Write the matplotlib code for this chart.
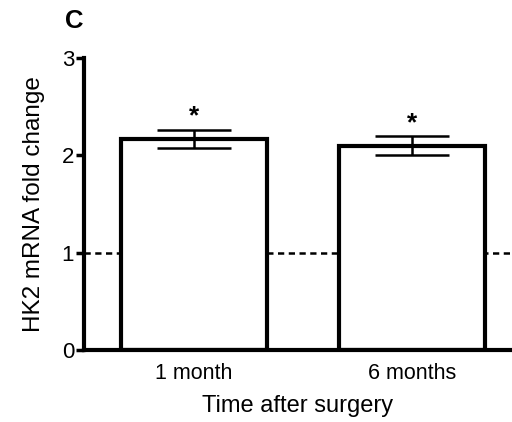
import matplotlib
matplotlib.use("Agg")
import matplotlib.pyplot as plt

categories = ["1 month", "6 months"]
values = [2.17, 2.10]
errors = [0.095, 0.095]
stars = ["*", "*"]
yticks = [0, 1, 2, 3]

plt.rcParams['font.family'] = ['Liberation Sans', 'DejaVu Sans']

fig = plt.figure(figsize=(5.12, 4.22), dpi=100)
ax = fig.add_axes([0.164, 0.1706, 0.836, 0.692])

x = list(range(len(categories)))
ax.axhline(1, color='black', lw=1.8, ls=(0, (2.5, 1.8)), zorder=1)
ax.bar(x, values, width=0.67, color='white', edgecolor='black', linewidth=3, zorder=2)
ax.errorbar(x, values, yerr=errors, fmt='none', ecolor='black', elinewidth=1.8,
            capsize=26.5, capthick=1.8, zorder=3)
for xi, v, e, s in zip(x, values, errors, stars):
    ax.text(xi, v + e + 0.01, s, ha='center', va='bottom', fontsize=19, fontweight='bold')

ax.set_xlim(-0.505, 1.459)
ax.set_ylim(0, 3)
ax.set_yticks(yticks)
ax.set_xticks(x)
ax.set_xticklabels(categories, fontsize=15.5)
ax.tick_params(axis='y', length=6, width=2.5, labelsize=16, pad=1)
ax.tick_params(axis='x', length=0, pad=9)
for sp in ['top', 'right']:
    ax.spines[sp].set_visible(False)
for sp in ['left', 'bottom']:
    ax.spines[sp].set_linewidth(3)
ax.set_ylabel("HK2 mRNA fold change", fontsize=17.5, labelpad=12)
ax.set_xlabel("Time after surgery", fontsize=17, labelpad=8)
fig.text(0.145, 0.95, "C", fontsize=18.5, fontweight='bold', ha='center', va='center')

fig.savefig("out.png", dpi=100)
